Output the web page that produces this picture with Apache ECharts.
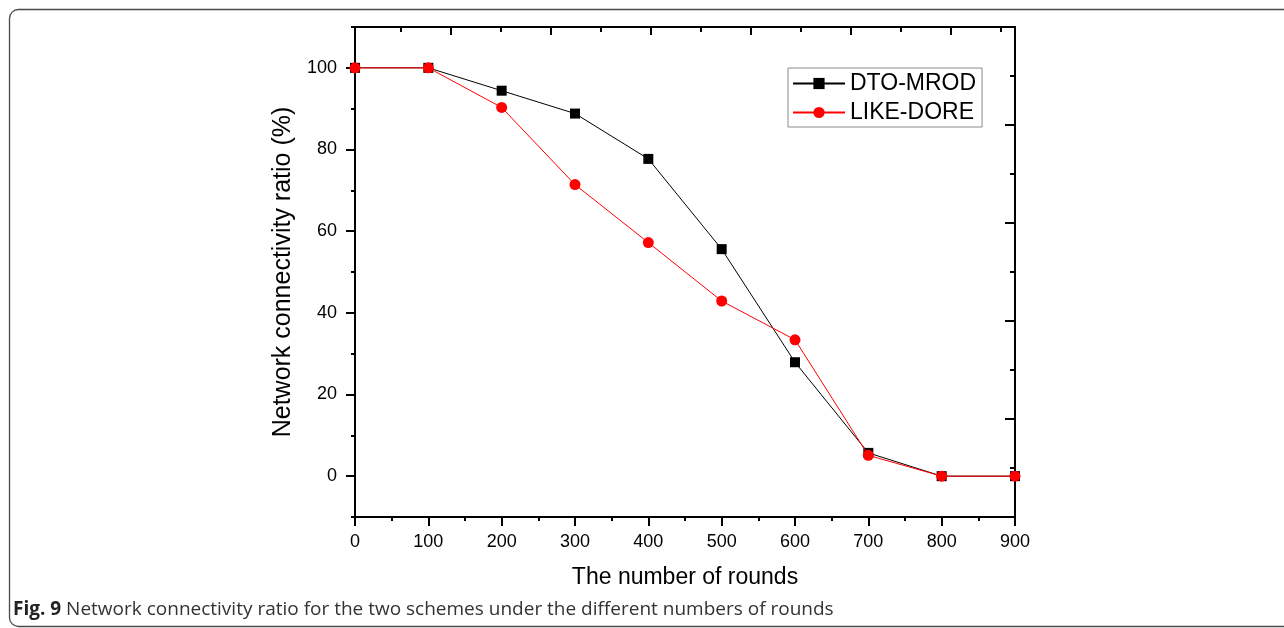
<!DOCTYPE html>
<html>
<head>
<meta charset="utf-8">
<title>Network connectivity ratio</title>
<script src="https://cdn.jsdelivr.net/npm/echarts@6/dist/echarts.min.js"></script>
<style>
  html, body { margin: 0; padding: 0; background: #ffffff; }
  #chart { width: 1284px; height: 628px; }
</style>
</head>
<body>
<div id="chart"></div>
<script>
// Rounds on the x axis and the connectivity ratio (%) of each scheme
var rounds = [0, 100, 200, 300, 400, 500, 600, 700, 800, 900];
var dtoMrod = [100, 100, 94.4, 88.8, 77.7, 55.6, 27.9, 5.7, 0, 0];
var likeDore = [100, 100, 90.3, 71.4, 57.2, 42.9, 33.4, 5.1, 0, 0];

// Tick values for the left axis (labelled majors and unlabelled minors)
var yMajorTicks = [0, 20, 40, 60, 80, 100];
var yMinorTicks = [-10, 10, 30, 50, 70, 90, 110];

// Frame ticks on the top edge (own scale, no labels)
var topMajorTicks = [2, 4, 6, 8, 10, 12];
var topMinorTicks = [1, 3, 5, 7, 9, 11, 13];

var seriesNames = ['DTO-MROD', 'LIKE-DORE'];
var captionBold = 'Fig. 9';
var captionText = ' Network connectivity ratio for the two schemes under the different numbers of rounds';

function pairs(xs, ys) {
  return xs.map(function (x, i) { return [x, ys[i]]; });
}

var FONT = 'Liberation Sans, Arial, sans-serif';
var axisLine = { show: true, onZero: false, lineStyle: { color: '#000', width: 2 } };

var chart = echarts.init(document.getElementById('chart'), null, { renderer: 'canvas' });

chart.setOption({
  animation: false,
  backgroundColor: '#ffffff',
  grid: { left: 355, right: 269, top: 27, bottom: 111, containLabel: false },
  legend: {
    orient: 'vertical',
    left: 788,
    top: 68,
    padding: [4, 6, 3, 4],
    itemGap: 6,
    itemWidth: 52,
    itemHeight: 14,
    borderColor: '#8a8a8a',
    borderWidth: 1,
    backgroundColor: '#ffffff',
    textStyle: { fontFamily: FONT, fontSize: 23, color: '#000' },
    data: seriesNames
  },
  xAxis: [
    {
      type: 'value', position: 'bottom', min: 0, max: 900, interval: 100,
      name: 'The number of rounds', nameLocation: 'middle', nameGap: 49,
      nameTextStyle: { fontFamily: FONT, fontSize: 23, color: '#000' },
      axisLine: axisLine,
      axisTick: { show: true, inside: false, length: 9, lineStyle: { color: '#000', width: 2 } },
      minorTick: { show: true, splitNumber: 2, length: 4, lineStyle: { color: '#000', width: 2 } },
      axisLabel: { fontFamily: FONT, fontSize: 18, color: '#000', margin: 16 },
      splitLine: { show: false }, minorSplitLine: { show: false }
    },
    {
      type: 'value', position: 'top', min: 0.08, max: 13.28,
      axisLine: axisLine,
      axisTick: { show: true, inside: true, length: 8, customValues: topMajorTicks, lineStyle: { color: '#000', width: 2 } },
      axisLabel: { show: false },
      splitLine: { show: false }
    },
    {
      type: 'value', position: 'top', min: 0.08, max: 13.28,
      axisLine: { show: false, onZero: false },
      axisTick: { show: true, inside: true, length: 5, customValues: topMinorTicks, lineStyle: { color: '#000', width: 2 } },
      axisLabel: { show: false },
      splitLine: { show: false }
    }
  ],
  yAxis: [
    {
      type: 'value', position: 'left', min: -10, max: 110,
      name: 'Network connectivity ratio (%)', nameLocation: 'middle', nameGap: 58, nameRotate: 90,
      nameTextStyle: { fontFamily: FONT, fontSize: 25, color: '#000' },
      axisLine: axisLine,
      axisTick: { show: true, inside: false, length: 9, customValues: yMajorTicks, lineStyle: { color: '#000', width: 2 } },
      axisLabel: { fontFamily: FONT, fontSize: 18, color: '#000', margin: 18, customValues: yMajorTicks },
      splitLine: { show: false }
    },
    {
      type: 'value', position: 'left', min: -10, max: 110,
      axisLine: { show: false, onZero: false },
      axisTick: { show: true, inside: false, length: 4, customValues: yMinorTicks, lineStyle: { color: '#000', width: 2 } },
      axisLabel: { show: false },
      splitLine: { show: false }
    },
    {
      type: 'value', position: 'right', min: 0, max: 10, interval: 2,
      axisLine: axisLine,
      axisTick: { show: true, inside: true, length: 10, lineStyle: { color: '#000', width: 2 } },
      minorTick: { show: true, splitNumber: 2, length: 5, lineStyle: { color: '#000', width: 2 } },
      axisLabel: { show: false },
      splitLine: { show: false }, minorSplitLine: { show: false }
    }
  ],
  series: [
    {
      name: seriesNames[0], type: 'line', xAxisIndex: 0, yAxisIndex: 0,
      data: pairs(rounds, dtoMrod),
      symbol: 'rect', symbolSize: 10,
      lineStyle: { color: '#000', width: 1 },
      itemStyle: { color: '#000' },
      emphasis: { disabled: true }, z: 3
    },
    {
      name: seriesNames[1], type: 'line', xAxisIndex: 0, yAxisIndex: 0,
      data: pairs(rounds, likeDore),
      symbol: 'circle', symbolSize: 11,
      lineStyle: { color: '#ff0000', width: 1 },
      itemStyle: { color: '#ff0000' },
      emphasis: { disabled: true }, z: 4
    }
  ],
  graphic: [
    {
      type: 'rect', silent: true, z: -1,
      shape: { x: 9.5, y: 9.5, width: 1300, height: 617, r: 9 },
      style: { fill: null, stroke: '#4a4a4a', lineWidth: 1.3 }
    },
    {
      type: 'text', silent: true,
      x: 13, y: 610,
      style: {
        text: '{b|' + captionBold + '}{r|' + captionText + '}',
        verticalAlign: 'middle',
        rich: {
          b: { fontFamily: 'Open Sans, sans-serif', fontWeight: 'bold', fontSize: 19, fill: '#222' },
          r: { fontFamily: 'Open Sans, sans-serif', fontSize: 19, fill: '#333' }
        }
      }
    }
  ]
});
</script>
</body>
</html>
